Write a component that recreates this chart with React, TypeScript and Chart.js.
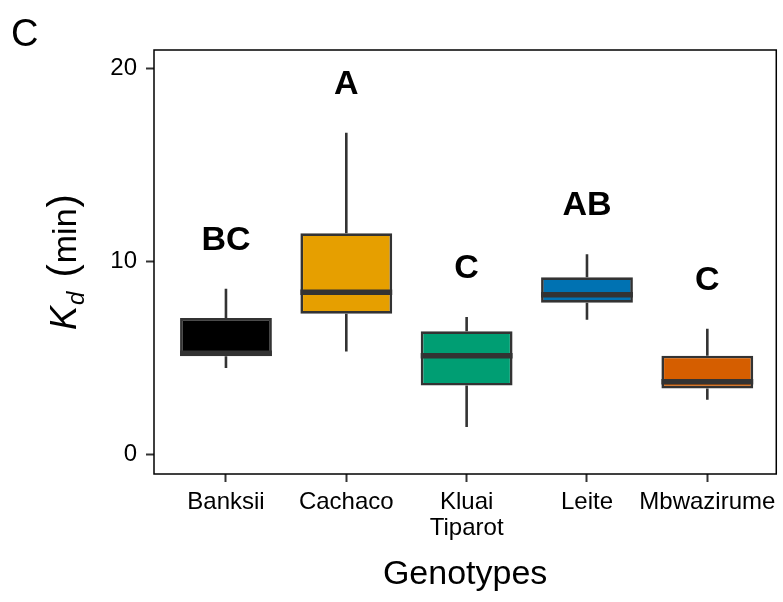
import React, { useEffect, useRef } from 'react';
import { Chart, registerables } from 'chart.js';

Chart.register(...registerables);

const categories: (string | string[])[] = ['Banksii', 'Cachaco', ['Kluai', 'Tiparot'], 'Leite', 'Mbwazirume'];
const mins = [4.49, 5.35, 1.43, 6.99, 2.85];
const q1 = [5.1, 7.3, 3.58, 7.87, 3.43];
const medians = [5.26, 8.41, 5.13, 8.29, 3.78];
const q3 = [7.08, 11.47, 6.39, 9.19, 5.13];
const maxs = [8.6, 16.67, 7.13, 10.38, 6.53];
const letters = ['BC', 'A', 'C', 'AB', 'C'];
const letterY = [11.1, 19.17, 9.63, 12.88, 9.03];
const colors = ['#000000', '#E69F00', '#009E73', '#0072B2', '#D55E00'];
const yTicks = [0, 10, 20];

const FONT = '"Liberation Sans", Arial, sans-serif';

export default function App() {
  const ref = useRef<HTMLCanvasElement>(null);

  useEffect(() => {
    const canvas = ref.current;
    if (!canvas) return;

    const boxPlugin = {
      id: 'boxExtras',
      beforeDatasetsDraw(chart: any) {
        const { ctx } = chart;
        const y = chart.scales.y;
        const meta = chart.getDatasetMeta(0);
        ctx.save();
        ctx.strokeStyle = '#333333';
        ctx.lineWidth = 2.6;
        meta.data.forEach((bar: any, i: number) => {
          const x = bar.x;
          ctx.beginPath();
          ctx.moveTo(x, y.getPixelForValue(q3[i]));
          ctx.lineTo(x, y.getPixelForValue(maxs[i]));
          ctx.moveTo(x, y.getPixelForValue(q1[i]));
          ctx.lineTo(x, y.getPixelForValue(mins[i]));
          ctx.stroke();
        });
        ctx.restore();
      },
      afterDatasetsDraw(chart: any) {
        const { ctx } = chart;
        const y = chart.scales.y;
        const meta = chart.getDatasetMeta(0);
        ctx.save();
        ctx.strokeStyle = '#333333';
        ctx.lineWidth = 5.5;
        meta.data.forEach((bar: any, i: number) => {
          const py = y.getPixelForValue(medians[i]);
          ctx.beginPath();
          ctx.moveTo(bar.x - bar.width / 2, py);
          ctx.lineTo(bar.x + bar.width / 2, py);
          ctx.stroke();
        });
        ctx.fillStyle = '#000000';
        ctx.font = `bold 34px ${FONT}`;
        ctx.textAlign = 'center';
        ctx.textBaseline = 'middle';
        meta.data.forEach((bar: any, i: number) => {
          ctx.fillText(letters[i], bar.x, y.getPixelForValue(letterY[i]));
        });
        ctx.restore();
      },
      afterDraw(chart: any) {
        const { ctx, chartArea } = chart;
        ctx.save();
        // panel border
        ctx.strokeStyle = '#000000';
        ctx.lineWidth = 1.5;
        ctx.strokeRect(chartArea.left, chartArea.top, chartArea.right - chartArea.left, chartArea.bottom - chartArea.top);
        // panel label
        ctx.fillStyle = '#000000';
        ctx.font = `38px ${FONT}`;
        ctx.textAlign = 'left';
        ctx.textBaseline = 'alphabetic';
        ctx.fillText('C', 11, 46);
        // y axis title with subscript
        const cy = (chartArea.top + chartArea.bottom) / 2;
        ctx.translate(76, cy);
        ctx.rotate(-Math.PI / 2);
        const parts = [
          { t: 'K', f: `italic 36px ${FONT}`, dy: 0, gap: 1 },
          { t: 'd', f: `italic 24px ${FONT}`, dy: 8, gap: 14 },
          { t: '(', f: `40px ${FONT}`, dy: 0, gap: 1 },
          { t: 'min', f: `34px ${FONT}`, dy: 0, gap: 1 },
          { t: ')', f: `40px ${FONT}`, dy: 0, gap: 0 },
        ];
        let total = 0;
        const widths = parts.map((p) => {
          ctx.font = p.f;
          const w = ctx.measureText(p.t).width;
          total += w + p.gap;
          return w;
        });
        let xPos = -total / 2;
        parts.forEach((p, i) => {
          ctx.font = p.f;
          ctx.fillText(p.t, xPos, p.dy);
          xPos += widths[i] + p.gap;
        });
        ctx.restore();
      },
    };

    const chart = new Chart(canvas, {
      type: 'bar',
      data: {
        datasets: [
          {
            data: q1.map((v, i) => ({ x: i, y: [v, q3[i]] })) as any,
            backgroundColor: colors,
            borderColor: '#333333',
            borderWidth: 2.7,
            borderSkipped: false,
            barPercentage: 0.763,
            categoryPercentage: 1,
          },
        ],
      },
      options: {
        responsive: false,
        animation: false,
        events: [],
        layout: { padding: { top: 50, right: 6, left: 0, bottom: 0 } },
        plugins: { legend: { display: false }, tooltip: { enabled: false } },
        scales: {
          x: {
            type: 'linear',
            offset: false,
            min: -0.598,
            max: 4.573,
            border: { display: false },
            grid: {
              offset: false,
              drawOnChartArea: false,
              drawTicks: true,
              tickLength: 8,
              tickColor: '#333333',
              tickWidth: 2,
            },
            afterBuildTicks: (scale: any) => {
              scale.ticks = categories.map((_, i) => ({ value: i }));
            },
            afterFit: (scale: any) => {
              scale.height = 128;
            },
            ticks: {
              autoSkip: false,
              maxRotation: 0,
              minRotation: 0,
              padding: 7,
              color: '#000000',
              font: { family: FONT, size: 24, lineHeight: 1.1 },
              callback: (v: any) => categories[v as number],
            },
            title: {
              display: true,
              text: 'Genotypes',
              color: '#000000',
              font: { family: FONT, size: 34, lineHeight: 1.2 },
              padding: { top: 0, bottom: 7 },
            },
          },
          y: {
            type: 'linear',
            min: -0.998,
            max: 20.96,
            border: { display: false },
            grid: {
              drawOnChartArea: false,
              drawTicks: true,
              tickLength: 8,
              tickColor: '#333333',
              tickWidth: 2,
            },
            afterBuildTicks: (scale: any) => {
              scale.ticks = yTicks.map((v) => ({ value: v }));
            },
            afterFit: (scale: any) => {
              scale.width = 154;
            },
            ticks: {
              padding: 9,
              color: '#000000',
              font: { family: FONT, size: 24 },
              callback: (v: any) => String(v),
            },
          },
        },
      },
      plugins: [boxPlugin],
    });

    return () => chart.destroy();
  }, []);

  return (
    <div style={{ position: 'absolute', left: 0, top: 0, width: 783, height: 602, background: '#fff' }}>
      <canvas ref={ref} width={783} height={602} style={{ display: 'block' }} />
    </div>
  );
}
